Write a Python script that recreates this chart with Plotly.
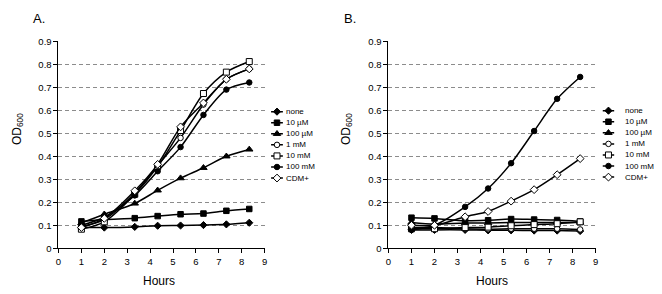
import plotly.graph_objects as go

# ---------------- data ----------------
hours = [1, 2, 3.33, 4.33, 5.33, 6.33, 7.33, 8.33]
series_names = ["none", "10 \u00b5M", "100 \u00b5M", "1 mM", "10 mM", "100 mM", "CDM+"]

a_none = [0.090, 0.090, 0.093, 0.098, 0.099, 0.101, 0.104, 0.111]
a_10uM = [0.117, 0.125, 0.131, 0.140, 0.148, 0.151, 0.163, 0.171]
a_100uM = [0.110, 0.148, 0.195, 0.252, 0.305, 0.350, 0.400, 0.430]
a_1mM = [0.095, 0.125, 0.240, 0.360, 0.480, 0.625, 0.735, 0.780]
a_10mM = [0.083, 0.115, 0.235, 0.355, 0.512, 0.673, 0.766, 0.812]
a_100mM = [0.100, 0.135, 0.230, 0.335, 0.440, 0.580, 0.690, 0.721]
a_cdm = [0.090, 0.130, 0.250, 0.365, 0.528, 0.632, 0.735, 0.780]

b_none = [0.080, 0.080, 0.080, 0.078, 0.078, 0.077, 0.077, 0.075]
b_10uM = [0.133, 0.130, 0.120, 0.122, 0.127, 0.125, 0.123, 0.117]
b_100uM = [0.112, 0.105, 0.110, 0.110, 0.112, 0.112, 0.112, 0.112]
b_1mM = [0.090, 0.090, 0.085, 0.083, 0.085, 0.085, 0.085, 0.082]
b_10mM = [0.085, 0.085, 0.090, 0.092, 0.098, 0.103, 0.107, 0.115]
b_100mM = [0.080, 0.100, 0.180, 0.260, 0.370, 0.510, 0.650, 0.745]
b_cdm = [0.100, 0.100, 0.137, 0.160, 0.205, 0.255, 0.320, 0.390]

x_ticks = [0, 1, 2, 3, 4, 5, 6, 7, 8, 9]
y_ticks = [0, 0.1, 0.2, 0.3, 0.4, 0.5, 0.6, 0.7, 0.8, 0.9]
y_ticktext = ["0", "0.1", "0.2", "0.3", "0.4", "0.5", "0.6", "0.7", "0.8", "0.9"]

panel_a = [a_none, a_10uM, a_100uM, a_1mM, a_10mM, a_100mM, a_cdm]
panel_b = [b_none, b_10uM, b_100uM, b_1mM, b_10mM, b_100mM, b_cdm]

# ---------------- styles ----------------
W, H = 662, 294
FONT = "Liberation Sans, Arial, sans-serif"
styles = [
    dict(symbol="diamond", size=5.5, color="black"),
    dict(symbol="square", size=5.5, color="black"),
    dict(symbol="triangle-up", size=6.5, color="black"),
    dict(symbol="circle", size=5.5, color="white"),
    dict(symbol="square", size=6, color="white"),
    dict(symbol="circle", size=5.5, color="black"),
    dict(symbol="diamond", size=6, color="white"),
]


def px(p):
    return p / W


def py(p):
    return 1 - p / H


fig = go.Figure()

for panel, xa, ya in [(panel_a, "x", "y"), (panel_b, "x2", "y2")]:
    for name, vals, st in zip(series_names, panel, styles):
        fig.add_trace(go.Scatter(
            x=hours, y=vals, mode="lines+markers", name=name,
            xaxis=xa, yaxis=ya, showlegend=False,
            line=dict(color="black", width=1.5, shape="spline", smoothing=0.8),
            marker=dict(symbol=st["symbol"], size=st["size"], color=st["color"],
                        line=dict(color="black", width=1)),
        ))

# custom legends (one per panel)
rows = list(range(len(series_names)))
for xa, ya in [("x3", "y3"), ("x4", "y4")]:
    for i, (name, st) in enumerate(zip(series_names, styles)):
        fig.add_trace(go.Scatter(
            x=[0, 1], y=[rows[i], rows[i]], mode="lines", xaxis=xa, yaxis=ya,
            showlegend=False, hoverinfo="skip",
            line=dict(color="black", width=1.5)))
        fig.add_trace(go.Scatter(
            x=[0.5], y=[rows[i]], mode="markers", xaxis=xa, yaxis=ya,
            showlegend=False, hoverinfo="skip",
            marker=dict(symbol=st["symbol"], size=st["size"], color=st["color"],
                        line=dict(color="black", width=1))))

common_x = dict(range=[0, 9], tickvals=x_ticks, ticks="outside", ticklen=4,
                tickcolor="black", showline=True, linecolor="black", linewidth=1,
                showgrid=False, zeroline=False, fixedrange=True,
                tickfont=dict(family=FONT, size=9.5, color="black"))
common_y = dict(range=[0, 0.9], tickvals=y_ticks, ticktext=y_ticktext,
                ticks="outside", ticklen=4, tickcolor="black", showline=True,
                linecolor="black", linewidth=1, showgrid=True,
                gridcolor="#8c8c8c", gridwidth=1, griddash="4px,3px",
                zeroline=False, fixedrange=True,
                tickfont=dict(family=FONT, size=9.5, color="black"))

ydom = [py(251.7), py(36.7)]
hidden = dict(visible=False, showgrid=False, zeroline=False, fixedrange=True)

fig.update_layout(
    width=W, height=H, margin=dict(l=0, r=0, t=0, b=0),
    paper_bgcolor="white", plot_bgcolor="white", showlegend=False,
    xaxis=dict(common_x, domain=[px(56), px(264)], anchor="y"),
    yaxis=dict(common_y, domain=ydom, anchor="x"),
    xaxis2=dict(common_x, domain=[px(389), px(598)], anchor="y2"),
    yaxis2=dict(common_y, domain=ydom, anchor="x2"),
    xaxis3=dict(hidden, domain=[px(270.5), px(282.5)], range=[0, 1], anchor="y3"),
    yaxis3=dict(hidden, domain=[py(184.5), py(104.0)], range=[6.5, -0.5], anchor="x3"),
    xaxis4=dict(hidden, domain=[px(605), px(617)], range=[0, 1], anchor="y4"),
    yaxis4=dict(hidden, domain=[py(183.5), py(103.0)], range=[6.5, -0.5], anchor="x4"),
)

ann = []
for i, name in enumerate(series_names):
    ann.append(dict(x=px(284), y=rows[i], xref="paper", yref="y3", text=name,
                    showarrow=False, xanchor="left", yanchor="middle",
                    font=dict(family=FONT, size=8, color="black")))
    ann.append(dict(x=px(626), y=rows[i], xref="paper", yref="y4", text=name,
                    showarrow=False, xanchor="left", yanchor="middle",
                    font=dict(family=FONT, size=8, color="black")))

for label, x in [("A.", 28), ("B.", 342)]:
    ann.append(dict(x=px(x), y=py(13), xref="paper", yref="paper", text=label,
                    showarrow=False, xanchor="left", yanchor="middle",
                    font=dict(family=FONT, size=13, color="black")))
for x in [157, 493]:
    ann.append(dict(x=px(x), y=py(286), xref="paper", yref="paper", text="Hours",
                    showarrow=False, xanchor="center", yanchor="middle",
                    font=dict(family=FONT, size=12, color="black")))
for x in [15, 347]:
    ann.append(dict(x=px(x), y=py(128), xref="paper", yref="paper",
                    text="OD<sub>600</sub>", textangle=-90,
                    showarrow=False, xanchor="center", yanchor="middle",
                    font=dict(family=FONT, size=12, color="black")))
fig.update_layout(annotations=ann)

fig.write_html("out.html", config={"displayModeBar": False},
               post_script="document.body.style.margin='0';document.body.style.padding='0';")
